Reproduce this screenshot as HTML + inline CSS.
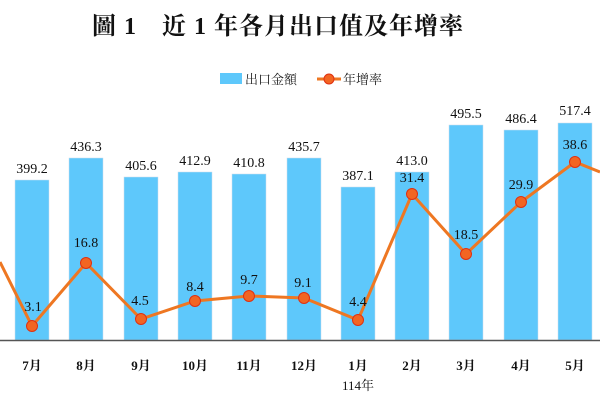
<!DOCTYPE html>
<html><head><meta charset="utf-8"><style>
body{margin:0;background:#fff;}
svg text{font-family:"Liberation Serif","Noto Serif CJK SC",serif;}
</style></head><body>
<svg width="600" height="400" xmlns="http://www.w3.org/2000/svg">
<text x="278" y="34" text-anchor="middle" font-size="24" font-weight="bold" fill="#111" letter-spacing="1">圖 1　近 1 年各月出口值及年增率</text>
<rect x="220" y="73" width="22" height="11" fill="#5ec8fb"/>
<text x="245" y="84" font-size="13" fill="#222">出口金額</text>
<line x1="317" y1="79" x2="341" y2="79" stroke="#ee7722" stroke-width="3"/>
<circle cx="329" cy="79" r="5" fill="#f26522" stroke="#e03010"/>
<text x="343" y="84" font-size="13" fill="#222">年增率</text>
<g fill="#5ec8fb" stroke="#cde" stroke-width="0.5">
<rect x="15" y="180" width="34" height="160"/>
<rect x="69" y="158" width="34" height="182"/>
<rect x="124" y="177" width="34" height="163"/>
<rect x="178" y="172" width="34" height="168"/>
<rect x="232" y="174" width="34" height="166"/>
<rect x="287" y="158" width="34" height="182"/>
<rect x="341" y="187" width="34" height="153"/>
<rect x="395" y="172" width="34" height="168"/>
<rect x="449" y="125" width="34" height="215"/>
<rect x="504" y="130" width="34" height="210"/>
<rect x="558" y="123" width="34" height="217"/>
</g>
<line x1="0" y1="340.5" x2="600" y2="340.5" stroke="#555" stroke-width="1.5"/>
<g font-size="14" text-anchor="middle" fill="#111">
<text x="32" y="173">399.2</text><text x="86" y="151">436.3</text><text x="141" y="170">405.6</text>
<text x="195" y="165">412.9</text><text x="249" y="167">410.8</text><text x="304" y="151">435.7</text>
<text x="358" y="180">387.1</text><text x="412" y="165">413.0</text><text x="466" y="118">495.5</text>
<text x="521" y="123">486.4</text><text x="575" y="115">517.4</text>
</g>
<polyline fill="none" stroke="#ee7722" stroke-width="3" points="0,262 32,326 86,263 141,319 195,301 249,296 304,298 358,320 412,194 466,254 521,202 575,162 600,172"/>
<g fill="#f26522" stroke="#e03010" stroke-width="1">
<circle cx="32" cy="326" r="5.5"/><circle cx="86" cy="263" r="5.5"/><circle cx="141" cy="319" r="5.5"/>
<circle cx="195" cy="301" r="5.5"/><circle cx="249" cy="296" r="5.5"/><circle cx="304" cy="298" r="5.5"/>
<circle cx="358" cy="320" r="5.5"/><circle cx="412" cy="194" r="5.5"/><circle cx="466" cy="254" r="5.5"/>
<circle cx="521" cy="202" r="5.5"/><circle cx="575" cy="162" r="5.5"/>
</g>
<g font-size="14" text-anchor="middle" fill="#111">
<text x="33" y="311">3.1</text><text x="86" y="247">16.8</text><text x="140" y="305">4.5</text>
<text x="195" y="291">8.4</text><text x="249" y="284">9.7</text><text x="303" y="287">9.1</text>
<text x="358" y="306">4.4</text><text x="412" y="182">31.4</text><text x="466" y="239">18.5</text>
<text x="521" y="189">29.9</text><text x="575" y="149">38.6</text>
</g>
<g font-size="13" text-anchor="middle" fill="#111" font-weight="bold">
<text x="32" y="370">7月</text><text x="86" y="370">8月</text><text x="141" y="370">9月</text>
<text x="195" y="370">10月</text><text x="249" y="370">11月</text><text x="304" y="370">12月</text>
<text x="358" y="370">1月</text><text x="412" y="370">2月</text><text x="466" y="370">3月</text>
<text x="521" y="370">4月</text><text x="575" y="370">5月</text>
<text x="358" y="390" font-weight="normal">114年</text>
</g>
</svg>
</body></html>
